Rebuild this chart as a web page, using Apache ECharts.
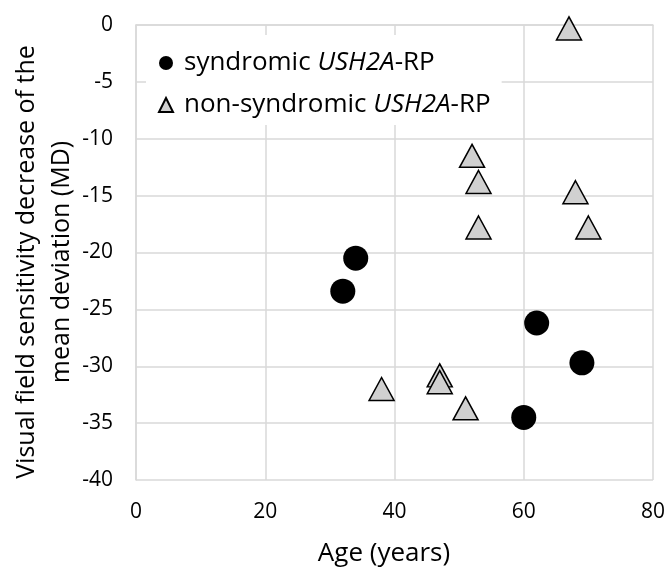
<!DOCTYPE html>
<html>
<head>
<meta charset="utf-8">
<script src="https://cdn.jsdelivr.net/npm/echarts@6/dist/echarts.min.js"></script>
<style>html,body{margin:0;padding:0;background:#fff;}#c{width:666px;height:569px;}</style>
</head>
<body>
<div id="c"></div>
<script>
const syndromicAge = [32, 34, 62, 69, 60];
const syndromicMD = [-23.4, -20.5, -26.2, -29.7, -34.5];
const nonSyndromicAge = [67, 52, 53, 68, 53, 70, 38, 47, 47, 51];
const nonSyndromicMD = [-0.3, -11.5, -13.8, -14.7, -17.8, -17.8, -32.0, -30.8, -31.4, -33.7];
const seriesNames = ['syndromic USH2A-RP', 'non-syndromic USH2A-RP'];
const xTitle = 'Age (years)';
const yTitle = 'Visual field sensitivity decrease of the\nmean deviation (MD)';

const FONT = 'Open Sans';
const chart = echarts.init(document.getElementById('c'), null, {renderer: 'canvas'});
const zip = (a, b) => a.map((v, i) => [v, b[i]]);
chart.setOption({
  animation: false,
  backgroundColor: '#fff',
  textStyle: {fontFamily: FONT},
  grid: {left: 136, right: 13, top: 25, bottom: 89, containLabel: false, outerBoundsMode: 'none'},
  graphic: [{
    type: 'text', x: 44.5, y: 262, rotation: Math.PI / 2,
    style: {
      text: yTitle, fill: '#000', font: '25px "Open Sans"', fontSize: 25, fontFamily: FONT,
      align: 'center', verticalAlign: 'middle', lineHeight: 35
    }
  }],
  xAxis: {
    type: 'value', min: 0, max: 80, interval: 20,
    name: xTitle, nameLocation: 'middle', nameGap: 61,
    nameTextStyle: {fontSize: 26, color: '#000', fontFamily: FONT, padding: [0, 21, 0, 0]},
    axisLine: {show: true, lineStyle: {color: '#d9d9d9', width: 1.5}},
    axisTick: {show: false},
    axisLabel: {fontSize: 21, color: '#000', margin: 22, fontFamily: FONT},
    splitLine: {show: true, lineStyle: {color: '#d9d9d9', width: 1.5}}
  },
  yAxis: {
    type: 'value', min: -40, max: 0, interval: 5,
    axisLine: {show: true, lineStyle: {color: '#d9d9d9', width: 1.5}},
    axisTick: {show: false},
    axisLabel: {fontSize: 21, color: '#000', margin: 23, fontFamily: FONT},
    splitLine: {show: true, lineStyle: {color: '#d9d9d9', width: 1.5}}
  },
  legend: {
    orient: 'vertical', left: 146, top: 35,
    backgroundColor: '#fff', padding: [13, 11, 5, 12],
    itemWidth: 14, itemHeight: 14, itemGap: 12,
    data: seriesNames,
    formatter: function (n) {
      const pre = n.split(' ')[0];
      return '{g|}{a|' + pre + ' }{b|USH2A}{a|-RP}';
    },
    textStyle: {
      fontSize: 26, color: '#000', fontFamily: FONT, lineHeight: 30,
      rich: {
        g: {width: 6, lineHeight: 30},
        a: {fontSize: 26, color: '#000', fontFamily: FONT, lineHeight: 30},
        b: {fontSize: 26, color: '#000', fontFamily: FONT, fontStyle: 'italic', lineHeight: 30}
      }
    }
  },
  series: [
    {
      name: seriesNames[0], type: 'scatter', symbol: 'circle', symbolSize: 25,
      itemStyle: {color: '#000', opacity: 1},
      data: zip(syndromicAge, syndromicMD), z: 3
    },
    {
      name: seriesNames[1], type: 'scatter', symbol: 'triangle', symbolSize: [25, 23],
      itemStyle: {color: '#d0d0d0', borderColor: '#000', borderWidth: 1.5, opacity: 1},
      data: zip(nonSyndromicAge, nonSyndromicMD), z: 2
    }
  ]
});
</script>
</body>
</html>
